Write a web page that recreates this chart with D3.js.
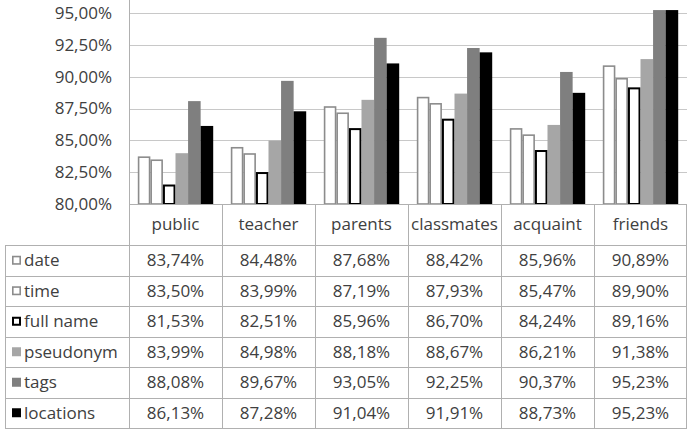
<!DOCTYPE html>
<html lang="en">
  <head>
    <meta charset="UTF-8" />
    <title>Chart</title>
    <style>
      body {
        margin: 0;
        background: #fff;
      }
      text {
        font-family: 'Open Sans', 'Noto Sans', sans-serif;
        fill: #404040;
      }
    </style>
  </head>
  <body>
    <svg width="687" height="430"></svg>
    <script src="https://cdn.jsdelivr.net/npm/d3@7"></script>
    <script>
      // data
      const categories = ['public', 'teacher', 'parents', 'classmates', 'acquaint', 'friends'];
      const seriesNames = ['date', 'time', 'full name', 'pseudonym', 'tags', 'locations'];
      const date = [83.74, 84.48, 87.68, 88.42, 85.96, 90.89];
      const time = [83.5, 83.99, 87.19, 87.93, 85.47, 89.9];
      const fullName = [81.53, 82.51, 85.96, 86.7, 84.24, 89.16];
      const pseudonym = [83.99, 84.98, 88.18, 88.67, 86.21, 91.38];
      const tags = [88.08, 89.67, 93.05, 92.25, 90.37, 95.23];
      const locations = [86.13, 87.28, 91.04, 91.91, 88.73, 95.23];
      const yTicks = [80, 82.5, 85, 87.5, 90, 92.5, 95];

      const seriesValues = [date, time, fullName, pseudonym, tags, locations];
      const styles = [
        { fill: '#fff', stroke: '#8c8c8c', sw: 1.6 },
        { fill: '#fff', stroke: '#8c8c8c', sw: 1.6 },
        { fill: '#fff', stroke: '#000', sw: 2 },
        { fill: '#a6a6a6', stroke: 'none', sw: 0 },
        { fill: '#7f7f7f', stroke: 'none', sw: 0 },
        { fill: '#000', stroke: 'none', sw: 0 },
      ];

      const fmt = (v) => v.toFixed(2).replace('.', ',') + '%';

      const svg = d3.select('svg');
      const plotLeft = 129,
        plotRight = 687,
        plotTop = 13,
        axisY = 204,
        tableTop = 245,
        tableBottom = 428,
        tableLeft = 5;
      const rowH = (tableBottom - tableTop) / seriesNames.length;
      const lineColor = '#b0b0b0';

      const x = d3.scaleBand().domain(categories).range([plotLeft, plotRight]);
      const xs = d3
        .scaleBand()
        .domain(seriesNames)
        .range([0, x.bandwidth()])
        .paddingOuter(0.7);
      const y = d3.scaleLinear().domain([80, 95]).range([axisY, plotTop]);

      // gridlines
      svg
        .append('g')
        .selectAll('line')
        .data(yTicks)
        .join('line')
        .attr('x1', plotLeft)
        .attr('x2', plotRight)
        .attr('y1', (d) => Math.round(y(d)) + 0.5)
        .attr('y2', (d) => Math.round(y(d)) + 0.5)
        .attr('stroke', '#c8c8c8');

      // y axis labels
      const yAxis = svg
        .append('g')
        .attr('transform', `translate(${plotLeft},0)`)
        .call(d3.axisLeft(y).tickValues(yTicks).tickFormat(fmt).tickSize(0).tickPadding(17));
      yAxis.select('.domain').remove();
      yAxis
        .selectAll('text')
        .attr('font-size', '17px')
        .attr('font-family', "'Open Sans', sans-serif")
        .attr('fill', '#404040');

      // bars
      const groups = svg
        .append('g')
        .selectAll('g')
        .data(seriesValues)
        .join('g');
      groups
        .selectAll('rect')
        .data((vals, i) =>
          vals.map((v, j) => ({ v, cat: categories[j], s: seriesNames[i], st: styles[i] }))
        )
        .join('rect')
        .attr('x', (d) => x(d.cat) + xs(d.s) + d.st.sw / 2)
        .attr('width', (d) => xs.bandwidth() - d.st.sw)
        .attr('y', (d) => y(d.v) + d.st.sw / 2)
        .attr('height', (d) => axisY - y(d.v) - d.st.sw / 2)
        .attr('fill', (d) => d.st.fill)
        .attr('stroke', (d) => d.st.stroke)
        .attr('stroke-width', (d) => d.st.sw);

      // axis + table lines
      const lines = svg.append('g').attr('stroke', lineColor).attr('shape-rendering', 'crispEdges');
      lines
        .append('line')
        .attr('x1', plotLeft + 0.5)
        .attr('x2', plotLeft + 0.5)
        .attr('y1', 0)
        .attr('y2', tableBottom);
      lines
        .append('line')
        .attr('x1', plotLeft)
        .attr('x2', plotRight)
        .attr('y1', axisY + 0.5)
        .attr('y2', axisY + 0.5);
      lines
        .selectAll('.vdiv')
        .data(categories.slice(1))
        .join('line')
        .attr('class', 'vdiv')
        .attr('x1', (d) => Math.round(x(d)) + 0.5)
        .attr('x2', (d) => Math.round(x(d)) + 0.5)
        .attr('y1', axisY)
        .attr('y2', tableBottom);
      lines
        .append('line')
        .attr('x1', plotRight - 0.5)
        .attr('x2', plotRight - 0.5)
        .attr('y1', axisY)
        .attr('y2', tableBottom);
      lines
        .append('line')
        .attr('x1', tableLeft + 0.5)
        .attr('x2', tableLeft + 0.5)
        .attr('y1', tableTop)
        .attr('y2', tableBottom);
      lines
        .selectAll('.hrow')
        .data(d3.range(seriesNames.length + 1))
        .join('line')
        .attr('class', 'hrow')
        .attr('x1', tableLeft)
        .attr('x2', plotRight)
        .attr('y1', (i) => Math.round(tableTop + i * rowH) + 0.5)
        .attr('y2', (i) => Math.round(tableTop + i * rowH) + 0.5);

      // category labels
      svg
        .append('g')
        .selectAll('text')
        .data(categories)
        .join('text')
        .attr('x', (d) => x(d) + x.bandwidth() / 2)
        .attr('y', (axisY + tableTop) / 2)
        .attr('dy', '0.35em')
        .attr('text-anchor', 'middle')
        .attr('font-size', '17px')
        .text((d) => d);

      // table rows
      const rows = svg
        .append('g')
        .selectAll('g')
        .data(seriesNames)
        .join('g')
        .attr('transform', (d, i) => `translate(0,${tableTop + i * rowH + rowH / 2})`);
      rows
        .append('rect')
        .attr('x', (d, i) => 12 + styles[i].sw / 2)
        .attr('y', (d, i) => -4.5 + styles[i].sw / 2)
        .attr('width', (d, i) => 9 - styles[i].sw)
        .attr('height', (d, i) => 9 - styles[i].sw)
        .attr('fill', (d, i) => styles[i].fill)
        .attr('stroke', (d, i) => styles[i].stroke)
        .attr('stroke-width', (d, i) => styles[i].sw);
      rows
        .append('text')
        .attr('x', 24)
        .attr('dy', '0.35em')
        .attr('font-size', '17px')
        .text((d) => d);
      rows
        .selectAll('.val')
        .data((d, i) => seriesValues[i].map((v, j) => ({ v, cat: categories[j] })))
        .join('text')
        .attr('class', 'val')
        .attr('x', (d) => x(d.cat) + x.bandwidth() / 2)
        .attr('dy', '0.35em')
        .attr('text-anchor', 'middle')
        .attr('font-size', '17px')
        .text((d) => fmt(d.v));
    </script>
  </body>
</html>
